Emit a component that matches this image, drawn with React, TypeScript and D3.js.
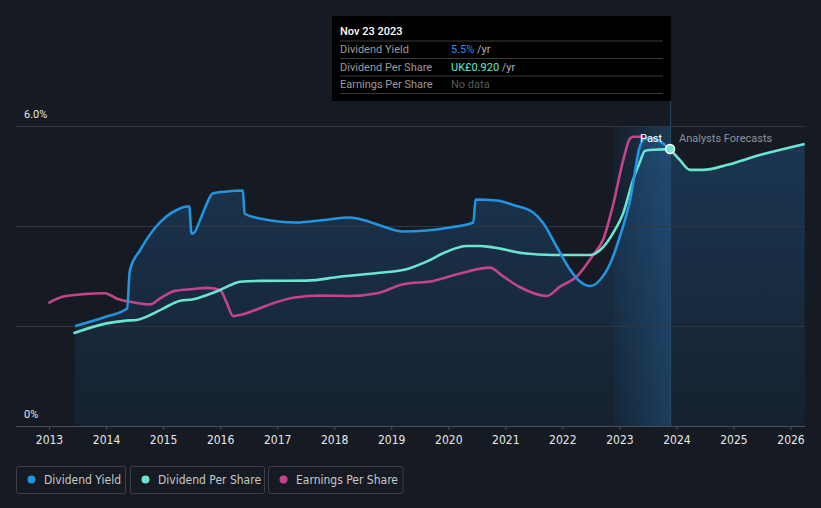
import React from "react";
import * as d3 from "d3";

// chart values: [decimal year, value]
const yearTicks = d3.range(2013, 2027);

// Dividend yield, %
const dividendYield: [number, number][] = [
  [2013.45, 2.0], [2014.0, 2.19], [2014.36, 2.35], [2014.41, 3.12], [2014.59, 3.52],
  [2014.82, 3.92], [2015.05, 4.19], [2015.23, 4.32], [2015.41, 4.39], [2015.45, 4.39],
  [2015.49, 3.85], [2015.53, 3.86], [2015.64, 4.12], [2015.76, 4.45], [2015.86, 4.65],
  [2016.11, 4.69], [2016.39, 4.71], [2016.42, 4.25], [2016.69, 4.15], [2017.33, 4.07],
  [2017.8, 4.12], [2018.27, 4.17], [2018.5, 4.12], [2018.85, 3.99], [2019.2, 3.89],
  [2019.61, 3.91], [2020.02, 3.97], [2020.43, 4.07], [2020.47, 4.53], [2020.84, 4.51],
  [2021.13, 4.42], [2021.48, 4.27], [2021.66, 4.05], [2021.89, 3.59], [2022.13, 3.12],
  [2022.3, 2.89], [2022.48, 2.8], [2022.65, 2.92], [2022.83, 3.25], [2023.0, 3.79],
  [2023.18, 4.52], [2023.35, 5.59], [2023.44, 5.75], [2023.59, 5.75], [2023.76, 5.65],
  [2023.88, 5.52],
];

// Dividend per share, UK£
const dividendPerShare: [number, number][] = [
  [2013.42, 0.308], [2014.0, 0.341], [2014.35, 0.35], [2014.53, 0.352], [2014.7, 0.363],
  [2015.0, 0.391], [2015.29, 0.416], [2015.52, 0.421], [2015.76, 0.435], [2015.99, 0.452],
  [2016.22, 0.472], [2016.34, 0.479], [2016.69, 0.482], [2017.51, 0.483], [2018.09, 0.496],
  [2018.79, 0.509], [2019.26, 0.521], [2019.61, 0.546], [2019.96, 0.579], [2020.31, 0.598],
  [2020.55, 0.598], [2020.72, 0.595], [2021.31, 0.574], [2021.83, 0.568], [2022.48, 0.568],
  [2022.71, 0.595], [2022.88, 0.641], [2023.06, 0.708], [2023.23, 0.817], [2023.35, 0.877],
  [2023.44, 0.914], [2023.52, 0.917], [2023.88, 0.92],
];

// Analysts forecasts, UK£
const dpsForecast: [number, number][] = [
  [2023.88, 0.92], [2024.05, 0.884], [2024.23, 0.851], [2024.46, 0.851], [2024.87, 0.867],
  [2025.45, 0.9], [2026.24, 0.937],
];

// Earnings per share, UK£
const earningsPerShare: [number, number][] = [
  [2012.98, 0.408], [2013.24, 0.43], [2013.59, 0.438], [2013.97, 0.441], [2014.06, 0.435],
  [2014.21, 0.421], [2014.41, 0.413], [2014.76, 0.404], [2014.94, 0.424], [2015.2, 0.449],
  [2015.52, 0.455], [2015.76, 0.459], [2015.99, 0.452], [2016.11, 0.408], [2016.22, 0.365],
  [2016.34, 0.369], [2016.69, 0.391], [2016.92, 0.408], [2017.33, 0.428], [2017.74, 0.433],
  [2018.27, 0.432], [2018.74, 0.441], [2019.2, 0.471], [2019.73, 0.482], [2020.2, 0.507],
  [2020.72, 0.526], [2020.96, 0.496], [2021.25, 0.461], [2021.72, 0.432], [2021.95, 0.463],
  [2022.24, 0.496], [2022.53, 0.568], [2022.71, 0.621], [2022.88, 0.734], [2023.06, 0.884],
  [2023.18, 0.956], [2023.24, 0.961], [2023.41, 0.961],
];

const legendItems = [
  { label: "Dividend Yield", color: "#2394df" },
  { label: "Dividend Per Share", color: "#6ce5d0" },
  { label: "Earnings Per Share", color: "#c4448b" },
];

const W = 821;
const H = 508;
const BG = "#151a23";
const COND = "'Liberation Sans Narrow', 'DejaVu Sans Condensed', Roboto, sans-serif";
const SANS = "Roboto, 'Noto Sans', sans-serif";

export default function App() {
  const x = d3.scaleLinear().domain([2013, 2026]).range([49.5, 791]);
  const y = d3.scaleLinear().domain([0, 6]).range([426, 126]);
  const money = d3.scaleLinear().domain([0, 1]).range([426, 125]);
  const left = 16;
  const right = 805;
  const pastStart = 2022.88;
  const now = 2023.88;

  const line = d3
    .line<[number, number]>()
    .x((d) => d[0])
    .y((d) => d[1])
    .curve(d3.curveMonotoneX);

  const toPx = (arr: [number, number][], s: d3.ScaleLinear<number, number>) =>
    arr.map((d) => [x(d[0]), s(d[1])] as [number, number]);

  const yieldPx = toPx(dividendYield, y);
  const dpsPx = toPx(dividendPerShare, money);
  const fcPx = toPx(dpsForecast, money);
  const epsPx = toPx(earningsPerShare, money);

  const area = d3
    .area<[number, number]>()
    .x((d) => d[0])
    .y0(y(0))
    .y1((d) => d[1])
    .curve(d3.curveMonotoneX);

  const dotX = x(now);
  const dotY = money(0.92);

  return (
    <svg
      width={W}
      height={H}
      style={{ position: "absolute", left: 0, top: 0, background: BG }}
    >
      <defs>
        <linearGradient id="fillGrad" x1="0" y1="0" x2="0" y2="1">
          <stop offset="0%" stopColor="#1b3652" />
          <stop offset="100%" stopColor="#15212f" />
        </linearGradient>
        <linearGradient id="pastGrad" x1="0" y1="0" x2="1" y2="0">
          <stop offset="0%" stopColor="#2a7fc4" stopOpacity={0.05} />
          <stop offset="100%" stopColor="#2a7fc4" stopOpacity={0.3} />
        </linearGradient>
      </defs>
      <rect width={W} height={H} fill={BG} />

      {/* area under yield + forecast */}
      <path d={area(yieldPx) ?? ""} fill="url(#fillGrad)" />
      <path d={area(fcPx) ?? ""} fill="url(#fillGrad)" />

      {/* past year highlight */}
      <rect
        x={x(pastStart)}
        y={y(6)}
        width={x(now) - x(pastStart)}
        height={y(0) - y(6)}
        fill="url(#pastGrad)"
      />

      {/* grid */}
      {[2, 4, 6].map((v) => (
        <line key={v} x1={left} x2={right} y1={y(v) + 0.5} y2={y(v) + 0.5} stroke="#30353e" />
      ))}
      <text x={24} y={118} fill="#e6e6e6" fontSize={11} fontFamily={SANS}>6.0%</text>
      <text x={24} y={418} fill="#e6e6e6" fontSize={11} fontFamily={SANS}>0%</text>

      {/* x axis */}
      <line x1={left} x2={right} y1={426.5} y2={426.5} stroke="#4a4f58" />
      {yearTicks.map((t) => (
        <g key={t} transform={`translate(${x(t)},426)`}>
          <line y1={0} y2={4} stroke="#4a4f58" />
          <text y={18} textAnchor="middle" fill="#e8e8e8" fontSize={12} fontFamily={COND}>
            {d3.format("d")(t)}
          </text>
        </g>
      ))}

      {/* now marker */}
      <line x1={dotX + 0.5} x2={dotX + 0.5} y1={100} y2={426} stroke="#2b4a68" />

      {/* series */}
      <path d={line(epsPx) ?? ""} fill="none" stroke="#c4448b" strokeWidth={2.6} />
      <path d={line(dpsPx) ?? ""} fill="none" stroke="#6ce5d0" strokeWidth={2.6} />
      <path d={line(yieldPx) ?? ""} fill="none" stroke="#2394df" strokeWidth={2.6} />
      <path d={line(fcPx) ?? ""} fill="none" stroke="#6ce5d0" strokeWidth={2.6} />
      <circle cx={dotX} cy={dotY} r={4.5} fill="#6ce5d0" stroke="#ffffff" strokeWidth={1.5} />

      <text x={640} y={142} fill="#ffffff" fontSize={11} fontFamily={SANS}>Past</text>
      <text x={679} y={142} fill="#8e949b" fontSize={11} fontFamily={SANS}>Analysts Forecasts</text>

      {/* tooltip */}
      <g fontFamily={SANS} fontSize={11}>
        <rect x={332} y={16} width={339} height={85} fill="#000000" />
        <text x={340} y={35} fill="#ffffff" fontWeight={500}>Nov 23 2023</text>
        {[41, 58.5, 76, 93.5].map((ly) => (
          <line key={ly} x1={340} x2={663} y1={ly} y2={ly} stroke="#3a3a3a" />
        ))}
        <text x={340} y={53} fill="#9a9a9a">Dividend Yield</text>
        <text x={451} y={53}>
          <tspan fill="#2394df">5.5%</tspan>
          <tspan fill="#b0b0b0"> /yr</tspan>
        </text>
        <text x={340} y={70.5} fill="#9a9a9a">Dividend Per Share</text>
        <text x={451} y={70.5}>
          <tspan fill="#6ce5d0">UK£0.920</tspan>
          <tspan fill="#b0b0b0"> /yr</tspan>
        </text>
        <text x={340} y={88} fill="#9a9a9a">Earnings Per Share</text>
        <text x={451} y={88} fill="#5a5a5a">No data</text>
      </g>

      {/* legend */}
      {legendItems.map((item, i) => {
        const boxX = [16.5, 130.5, 268.5][i];
        const boxW = [109, 134, 134.5][i];
        return (
          <g key={item.label}>
            <rect x={boxX} y={466.5} width={boxW} height={27} rx={2} fill="none" stroke="#3b4049" />
            <circle cx={boxX + 15} cy={479.5} r={4} fill={item.color} />
            <text x={boxX + 27.5} y={483.5} fill="#c8c8c8" fontSize={12} fontFamily={COND}>
              {item.label}
            </text>
          </g>
        );
      })}
    </svg>
  );
}
